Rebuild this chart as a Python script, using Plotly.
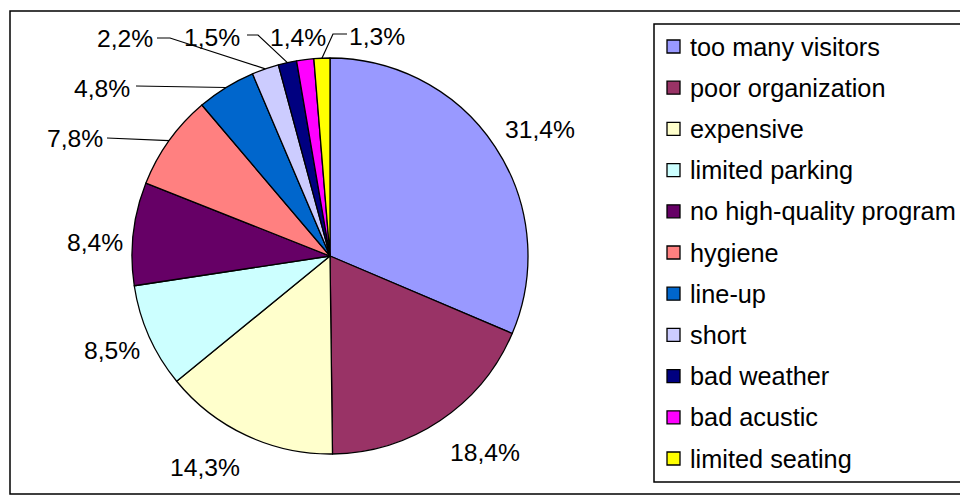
import math
import plotly.graph_objects as go

# ---------------- data ----------------
categories = ["too many visitors", "poor organization", "expensive", "limited parking",
              "no high-quality program", "hygiene", "line-up", "short", "bad weather",
              "bad acustic", "limited seating"]
values = [31.4, 18.4, 14.3, 8.5, 8.4, 7.8, 4.8, 2.2, 1.5, 1.4, 1.3]
colors = ["#9999FF", "#993366", "#FFFFCC", "#CCFFFF", "#660066", "#FF8080",
          "#0066CC", "#CCCCFF", "#000080", "#FF00FF", "#FFFF00"]
pct_labels = [f"{v:.1f}".replace(".", ",") + "%" for v in values]

# ---------------- layout constants (pixels) ----------------
W, H = 960, 497
CX, CY, R = 330, 256, 198
FONT = "Liberation Sans, Arial, sans-serif"
LABEL_SIZE = 24.7
LEGEND_SIZE = 25.3

# label centres (px) and leader line start / elbow (px)
label_pos = [(540, 130), (485, 452), (205, 467), (112, 350), (95, 242), (75, 139),
             (102, 88), (125, 39), (212, 37), (298, 37), (377, 36)]
leader_start = [None, None, None, None, None, (107, 138), (136, 86), (157, 38),
                (247, 35), None, (347, 34)]
leader_elbow = [None, None, None, None, None, None, None, (170, 38), (258, 35),
                None, (333, 34)]


def P(x, y):
    return x / W, 1 - y / H


fig = go.Figure()
fig.add_trace(go.Pie(
    labels=categories, values=values, sort=False, direction="clockwise", rotation=0,
    marker=dict(colors=colors, line=dict(color="black", width=1.3)),
    textinfo="none", hoverinfo="label+percent", showlegend=False,
    domain=dict(x=[(CX - R) / W, (CX + R) / W], y=[1 - (CY + R) / H, 1 - (CY - R) / H]),
))

shapes = []
annotations = []

# outer chart border (right edge lies beyond the visible page)
x0, y0 = P(10, 11)
x1, y1 = P(1000, 494)
shapes.append(dict(type="rect", xref="paper", yref="paper", x0=x0, y0=y1, x1=x1, y1=y0,
                   line=dict(color="black", width=1.5), fillcolor="rgba(0,0,0,0)", layer="below"))

# data labels with leader lines
total = sum(values)
cum = 0.0
for i, v in enumerate(values):
    mid = (cum + v / 2) / total * 2 * math.pi
    cum += v
    ex, ey = CX + R * math.sin(mid), CY - R * math.cos(mid)
    lx, ly = label_pos[i]
    ax, ay = P(lx, ly)
    annotations.append(dict(x=ax, y=ay, xref="paper", yref="paper", text=pct_labels[i],
                            showarrow=False, xanchor="center", yanchor="middle",
                            font=dict(family=FONT, size=LABEL_SIZE, color="black")))
    if leader_start[i] is not None:
        pts = [leader_start[i]]
        if leader_elbow[i] is not None:
            pts.append(leader_elbow[i])
        pts.append((ex, ey))
        path = ""
        for k, (px_, py_) in enumerate(pts):
            qx, qy = P(px_, py_)
            path += ("M" if k == 0 else " L") + f" {qx:.5f},{qy:.5f}"
        shapes.append(dict(type="path", xref="paper", yref="paper", path=path,
                           line=dict(color="black", width=1.2)))

# legend box and entries (right edge beyond the visible page)
lx0, ly0 = P(654, 24)
lx1, ly1 = P(990, 482)
shapes.append(dict(type="rect", xref="paper", yref="paper", x0=lx0, y0=ly1, x1=lx1, y1=ly0,
                   line=dict(color="black", width=1.5), fillcolor="white"))
for i, (cat, col) in enumerate(zip(categories, colors)):
    cy = 46.5 + 41.2 * i
    sx0, sy0 = P(667, cy - 6.5)
    sx1, sy1 = P(680, cy + 6.5)
    shapes.append(dict(type="rect", xref="paper", yref="paper", x0=sx0, y0=sy1, x1=sx1, y1=sy0,
                       line=dict(color="black", width=1.3), fillcolor=col))
    tx, ty = P(688, cy)
    annotations.append(dict(x=tx, y=ty, xref="paper", yref="paper", text=cat, showarrow=False,
                            xanchor="left", yanchor="middle",
                            font=dict(family=FONT, size=LEGEND_SIZE, color="black")))

fig.update_layout(
    width=W, height=H, margin=dict(l=0, r=0, t=0, b=0),
    paper_bgcolor="white", plot_bgcolor="white",
    shapes=shapes, annotations=annotations, showlegend=False,
)
fig.write_html("out.html", config={"displayModeBar": False},
               post_script="document.body.style.margin='0';document.body.style.padding='0';"
                           "document.body.style.overflow='hidden';")
